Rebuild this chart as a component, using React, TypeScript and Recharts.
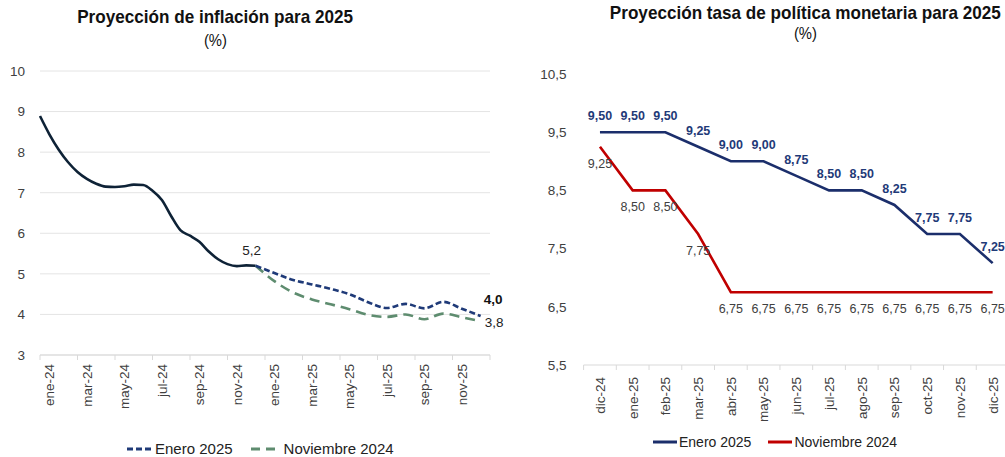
import { LineChart, Line, XAxis, YAxis, CartesianGrid } from 'recharts';

const FONT = "'Liberation Sans', Arial, sans-serif";

// ---- Proyección de inflación ----
// meses contados desde el inicio de ene-24 (0 = 1 ene 2024)
const INFL_TICK_LABELS = ['ene-24', 'mar-24', 'may-24', 'jul-24', 'sep-24', 'nov-24', 'ene-25', 'mar-25', 'may-25', 'jul-25', 'sep-25', 'nov-25'];
const HIST_MONTHS = [0, 0.5, 1, 1.5, 2, 2.5, 3, 3.5, 4, 4.5, 5, 5.5, 6, 6.5, 7, 7.5, 8, 8.5, 9, 9.5, 10, 10.5, 11, 11.5];
const HIST_VALUES = [8.89, 8.44, 8.06, 7.75, 7.51, 7.34, 7.22, 7.15, 7.14, 7.16, 7.2, 7.19, 7.05, 6.82, 6.42, 6.07, 5.94, 5.79, 5.55, 5.36, 5.24, 5.19, 5.21, 5.2];
const FC_MONTHS = [11.5, 12.5, 13.5, 14.5, 15.5, 16.5, 17.5, 18.5, 19.5, 20.5, 21.5, 22.5, 23.5];
const INFL_ENE25 = [5.2, 5.02, 4.85, 4.74, 4.63, 4.5, 4.3, 4.16, 4.26, 4.15, 4.31, 4.14, 3.96];
const INFL_NOV24 = [5.2, 4.82, 4.54, 4.37, 4.25, 4.13, 3.99, 3.94, 4.0, 3.88, 4.02, 3.93, 3.83];
const INFL_Y_TICKS = [3, 4, 5, 6, 7, 8, 9, 10];

// ---- Proyección TPM ----
const TPM_MONTHS = ['dic-24', 'ene-25', 'feb-25', 'mar-25', 'abr-25', 'may-25', 'jun-25', 'jul-25', 'ago-25', 'sep-25', 'oct-25', 'nov-25', 'dic-25'];
const TPM_ENE25 = [9.5, 9.5, 9.5, 9.25, 9.0, 9.0, 8.75, 8.5, 8.5, 8.25, 7.75, 7.75, 7.25];
const TPM_NOV24 = [9.25, 8.5, 8.5, 7.75, 6.75, 6.75, 6.75, 6.75, 6.75, 6.75, 6.75, 6.75, 6.75];
const TPM_Y_TICKS = [5.5, 6.5, 7.5, 8.5, 9.5, 10.5];

const C_HIST = '#0E2236';
const C_BLUE = '#1F3A78';
const C_GREEN = '#5E8C6F';
const C_NAVY = '#1B2E6B';
const C_RED = '#C00000';
const C_AXIS = '#D9D9D9';
const C_TEXT = '#404040';

const histData = HIST_MONTHS.map((t, i) => ({ t, v: HIST_VALUES[i] }));
const ene25Data = FC_MONTHS.map((t, i) => ({ t, v: INFL_ENE25[i] }));
const nov24Data = FC_MONTHS.map((t, i) => ({ t, v: INFL_NOV24[i] }));
const tpmData = TPM_MONTHS.map((m, i) => ({ x: i + 0.5, mes: m, ene: TPM_ENE25[i], nov: TPM_NOV24[i] }));

const comma = (v: number, d: number) => v.toFixed(d).replace('.', ',');

function RotTick(props: any) {
  const { x, y, payload, labels, step, offset } = props;
  const label = labels[Math.round(payload.value / step)];
  if (!label) return null;
  const cx = x + offset;
  return (
    <text x={cx} y={y} transform={`rotate(-90, ${cx}, ${y})`} textAnchor="end" dy="0.36em" fontSize={13.5} fill={C_TEXT} fontFamily={FONT}>
      {label}
    </text>
  );
}

const lastOnly = (idx: number, render: (x: number, y: number, v: number) => any) => (p: any) =>
  p.index === idx ? render(p.x, p.y, p.value) : null;

function InflationChart() {
  return (
    <LineChart width={505} height={457} margin={{ top: 71, right: 15, left: 10, bottom: 42 }}>
      <CartesianGrid vertical={false} stroke="#E4E4E4" />
      <XAxis
        type="number"
        dataKey="t"
        domain={[0, 24]}
        ticks={[0, 2, 4, 6, 8, 10, 12, 14, 16, 18, 20, 22, 24]}
        height={60}
        stroke={C_AXIS}
        tickSize={5}
        tickMargin={4}
        tick={<RotTick labels={INFL_TICK_LABELS} step={2} offset={9.4} />}
      />
      <YAxis
        domain={[3, 10]}
        ticks={INFL_Y_TICKS}
        width={30}
        axisLine={false}
        tickLine={false}
        tickMargin={9}
        tick={{ fontSize: 13.5, fill: C_TEXT, fontFamily: FONT }}
      />
      <Line
        data={histData}
        dataKey="v"
        type="monotone"
        stroke={C_HIST}
        strokeWidth={2.6}
        dot={false}
        isAnimationActive={false}
        label={lastOnly(histData.length - 1, (x, y, v) => (
          <text x={x - 4} y={y - 11} textAnchor="middle" fontSize={13.5} fill="#222" fontFamily={FONT}>{comma(v, 1)}</text>
        ))}
      />
      <Line
        data={nov24Data}
        dataKey="v"
        type="monotone"
        stroke={C_GREEN}
        strokeWidth={2.6}
        strokeDasharray="10 6"
        dot={false}
        isAnimationActive={false}
        label={lastOnly(nov24Data.length - 1, (x, y, v) => (
          <text x={x + 4} y={y + 6} textAnchor="start" fontSize={13.5} fill="#222" fontFamily={FONT}>{comma(v, 1)}</text>
        ))}
      />
      <Line
        data={ene25Data}
        dataKey="v"
        type="monotone"
        stroke={C_BLUE}
        strokeWidth={2.6}
        strokeDasharray="6 3"
        dot={false}
        isAnimationActive={false}
        label={lastOnly(ene25Data.length - 1, (x, y, v) => (
          <text x={x + 3} y={y - 12} textAnchor="start" fontSize={13.5} fontWeight="bold" fill="#111" fontFamily={FONT}>{comma(v, 1)}</text>
        ))}
      />
    </LineChart>
  );
}

function TpmChart() {
  return (
    <LineChart width={500} height={457} data={tpmData} margin={{ top: 74, right: 11, left: 0, bottom: 32 }}>
      <XAxis
        type="number"
        dataKey="x"
        domain={[0, 13]}
        ticks={[0, 1, 2, 3, 4, 5, 6, 7, 8, 9, 10, 11, 12, 13]}
        height={60}
        stroke={C_AXIS}
        tickSize={5}
        tickMargin={7}
        tick={<RotTick labels={TPM_MONTHS} step={1} offset={16.4} />}
      />
      <YAxis
        domain={[5.5, 10.5]}
        ticks={TPM_Y_TICKS}
        width={63.6}
        axisLine={false}
        tickLine={false}
        tickMargin={11}
        tickFormatter={(v: number) => comma(v, 1)}
        tick={{ fontSize: 13.5, fill: C_TEXT, fontFamily: FONT }}
      />
      <Line
        dataKey="ene"
        type="linear"
        stroke={C_NAVY}
        strokeWidth={2.6}
        dot={false}
        isAnimationActive={false}
        label={(p: any) => (
          <text x={p.x} y={p.y - 12} textAnchor="middle" fontSize={12.5} fontWeight="bold" fill={C_BLUE} fontFamily={FONT}>{comma(p.value, 2)}</text>
        )}
      />
      <Line
        dataKey="nov"
        type="linear"
        stroke={C_RED}
        strokeWidth={2.6}
        dot={false}
        isAnimationActive={false}
        label={(p: any) => (
          <text x={p.x} y={p.y + 21} textAnchor="middle" fontSize={12.5} fill={C_TEXT} fontFamily={FONT}>{comma(p.value, 2)}</text>
        )}
      />
    </LineChart>
  );
}

function Dash({ color, dash }: { color: string; dash: string }) {
  return (
    <svg width={24} height={10} style={{ marginRight: 4 }}>
      <line x1={0} y1={5} x2={24} y2={5} stroke={color} strokeWidth={3} strokeDasharray={dash} />
    </svg>
  );
}

function Title({ cx, top, text, gap }: { cx: number; top: number; text: string; gap: number }) {
  const narrow = { display: 'inline-block', whiteSpace: 'nowrap' as const, transform: 'scaleX(0.925)', transformOrigin: 'center' };
  return (
    <div style={{ position: 'absolute', left: cx - 300, width: 600, top, textAlign: 'center', color: '#111', lineHeight: '20px' }}>
      <div><span style={{ ...narrow, fontWeight: 'bold', fontSize: 18.5 }}>{text}</span></div>
      <div style={{ marginTop: gap }}><span style={{ ...narrow, fontSize: 16 }}>(%)</span></div>
    </div>
  );
}

export default function App() {
  return (
    <div style={{ position: 'fixed', left: 0, top: 0, width: 1005, height: 457, overflow: 'hidden', background: '#fff', fontFamily: FONT }}>
      <div style={{ position: 'absolute', left: 0, top: 0 }}>
        <InflationChart />
      </div>
      <div style={{ position: 'absolute', left: 520, top: 0 }}>
        <TpmChart />
      </div>

      <Title cx={215} top={7} text="Proyección de inflación para 2025" gap={3} />
      <Title cx={805} top={3} text="Proyección tasa de política monetaria para 2025" gap={0} />

      <div style={{ position: 'absolute', left: 127, top: 440, display: 'flex', alignItems: 'center', fontSize: 15, color: '#222' }}>
        <Dash color={C_BLUE} dash="6 3" />
        <span>Enero 2025</span>
        <span style={{ width: 18 }} />
        <Dash color={C_GREEN} dash="9 6" />
        <span style={{ marginLeft: 5 }}>Noviembre 2024</span>
      </div>
      <div style={{ position: 'absolute', left: 653, top: 434, display: 'flex', alignItems: 'center', fontSize: 14, color: '#222' }}>
        <svg width={24} height={10}><line x1={0} y1={5} x2={24} y2={5} stroke={C_NAVY} strokeWidth={3} /></svg>
        <span style={{ marginLeft: 2 }}>Enero 2025</span>
        <span style={{ width: 17 }} />
        <svg width={24} height={10}><line x1={0} y1={5} x2={24} y2={5} stroke={C_RED} strokeWidth={3} /></svg>
        <span style={{ marginLeft: 2 }}>Noviembre 2024</span>
      </div>
    </div>
  );
}
